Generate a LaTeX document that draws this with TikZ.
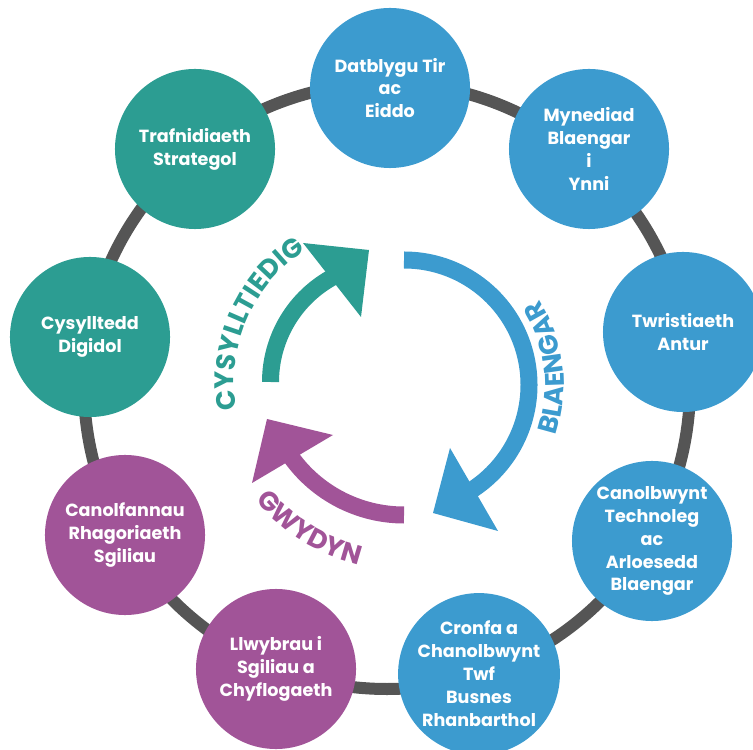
\documentclass[tikz,border=0pt]{standalone}
\usepackage{fontspec}
\setmainfont{Poppins}
\usetikzlibrary{decorations.text}

\definecolor{blueC}{RGB}{60,155,207}
\definecolor{tealC}{RGB}{44,157,146}
\definecolor{plumC}{RGB}{161,84,152}
\definecolor{ringC}{RGB}{85,85,85}
\newcommand{\labfont}{\fontsize{19}{19}\selectfont\bfseries}

\begin{document}
\begin{tikzpicture}[x=0.025cm, y=0.025cm,
  hub/.style={circle, minimum size=4cm, inner sep=0pt, text=white, align=center,
    font=\fontsize{12.5}{16.3}\selectfont\bfseries},
  ring/.style={ringC, line width=0.3cm},
  band/.style={line width=0.425cm},
  arcword/.style={decorate, decoration={text along path, text align=center,
    text={|\labfont\color{#1}|\arcword}}}]
  % Parameters
  \def\W{753} % width of picture
  \def\H{749} % height of picture
  \def\R{303} % radius of outer ring

  \useasboundingbox (0,0) rectangle (\W,\H);
  \clip (0,0) rectangle (\W,\H);

  % outer ring behind the circles
  \coordinate (ringc) at (387,363);
  \draw[ring] (ringc) circle (\R);

  % the nine circles, clockwise from the top
  \foreach \x/\y/\c/\t [count=\i] in {
      390/661/blueC/{Datblygu Tir\\ac\\Eiddo},
      589/600/blueC/{Mynediad\\Blaengar\\i\\Ynni},
      683/417/blueC/{Twristiaeth\\Antur},
      652/208/blueC/{Canolbwynt\\Technoleg\\ac\\Arloesedd\\Blaengar},
      479/75/blueC/{Cronfa a\\Chanolbwynt\\Twf\\Busnes\\Rhanbarthol},
      276/80/plumC/{Llwybrau i\\Sgiliau a\\Chyflogaeth},
      125/214/plumC/{Canolfannau\\Rhagoriaeth\\Sgiliau},
      90/412/tealC/{Cysylltedd\\Digidol},
      195/600/tealC/{Trafnidiaeth\\Strategol}}
    \node[hub, fill=\c] (n\i) at (\x,\y) {\t};

  % centres of the three arrows
  \coordinate (tc) at (390,367);
  \coordinate (bc) at (404,364);
  \coordinate (pc) at (404,373);

  % teal arrow, left side going up
  \draw[band, tealC] ([shift={(180:119.5)}]tc) arc[start angle=180, end angle=118, radius=119.5];
  \fill[tealC] (303,506) -- (369,499) -- (361,432) -- cycle;

  % blue arrow, right side going down
  \draw[band, blueC] ([shift={(90:125)}]bc) arc[start angle=90, end angle=-58, radius=125];
  \fill[blueC] (450,301) -- (433,236) -- (498,218) -- cycle;

  % purple arrow, bottom going left
  \draw[band, plumC] ([shift={(270:139)}]pc) arc[start angle=270, end angle=215, radius=139];
  \fill[plumC] (267,330) -- (333,314) -- (252,266) -- cycle;

  % words along the arrows
  {\labfont
  \def\arcword{CYSYLLTIEDIG}
  \path[arcword=tealC] ([shift={(201.5:156)}]tc) arc[start angle=201.5, end angle=111.5, radius=156];
  \def\arcword{BLAENGAR}
  \path[arcword=blueC] ([shift={(-33.1:160)}]bc) arc[start angle=-33.1, end angle=46.9, radius=160];
  \def\arcword{GWYDYN}
  \path[arcword=plumC] ([shift={(203.25:194)}]pc) arc[start angle=203.25, end angle=273.25, radius=194];
  }

\end{tikzpicture}
\end{document}
